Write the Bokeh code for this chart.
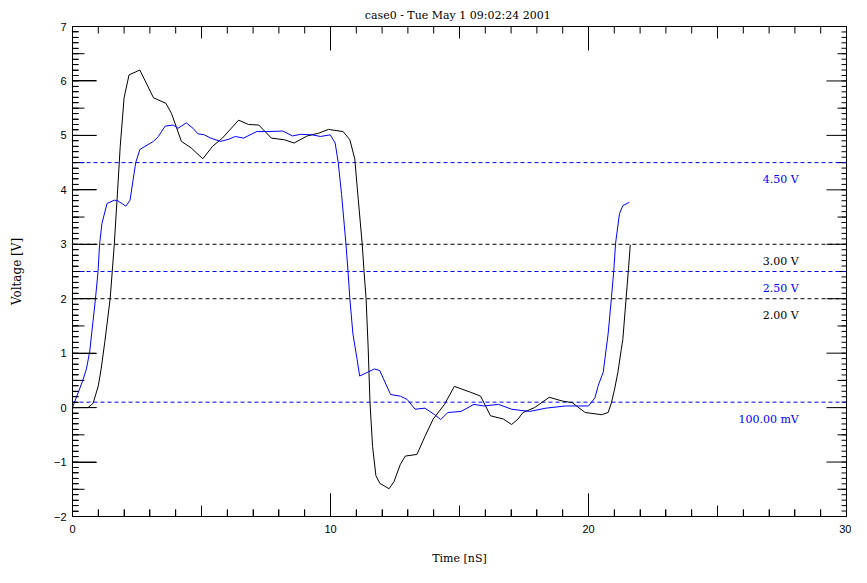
import numpy as np
from bokeh.plotting import figure
from bokeh.models import FixedTicker, LinearAxis, Range1d, ColumnDataSource
from bokeh.core.properties import value
from bokeh.embed import file_html
from bokeh.resources import INLINE

# ---- data ----
black_x = [0, 0.6, 0.8, 1.0, 1.11, 1.25, 1.46, 1.62, 1.75, 1.85, 2.0, 2.19, 2.61, 3.14, 3.62,
           3.84, 4.22, 4.60, 5.05, 5.43, 5.81, 6.44, 6.82, 7.22, 7.71, 8.21, 8.59, 9.10, 9.54, 9.92,
           10.49, 10.75, 10.94, 11.06, 11.23, 11.30, 11.38, 11.46, 11.53, 11.63, 11.76, 11.91, 12.27,
           12.46, 12.71, 12.90, 13.35, 13.66, 13.98, 14.42, 14.80, 15.44, 15.82, 16.20, 16.70, 17.02,
           17.27, 17.46, 17.91, 18.48, 18.99, 19.37, 19.87, 20.51, 20.76, 20.89, 21.02, 21.14, 21.27,
           21.33, 21.46, 21.55, 21.62]
black_y = [0, 0, 0.08, 0.4, 0.71, 1.2, 2.0, 3.0, 4.0, 4.8, 5.69, 6.11, 6.2, 5.69, 5.59,
           5.40, 4.89, 4.77, 4.57, 4.80, 4.95, 5.28, 5.20, 5.19, 4.95, 4.92, 4.86, 4.99, 5.04, 5.11,
           5.07, 4.92, 4.57, 3.91, 3.0, 2.5, 2.0, 1.1, 0.1, -0.71, -1.25, -1.39, -1.49,
           -1.36, -1.04, -0.89, -0.86, -0.53, -0.21, 0.06, 0.39, 0.28, 0.21, -0.15, -0.21, -0.31,
           -0.21, -0.09, 0, 0.19, 0.12, 0.09, -0.09, -0.13, -0.09, 0.09, 0.36, 0.65, 1.07,
           1.25, 2.02, 2.55, 2.99]

blue_x = [0, 0.2, 0.4, 0.54, 0.67, 0.89, 0.99, 1.05, 1.14, 1.34, 1.62, 1.75, 2.07, 2.23, 2.45,
          2.61, 2.89, 3.14, 3.33, 3.59, 3.90, 4.09, 4.41, 4.67, 4.86, 5.11, 5.36, 5.74, 6.06, 6.31,
          6.63, 7.14, 7.58, 8.15, 8.53, 8.85, 9.29, 9.61, 9.99, 10.18, 10.30, 10.43, 10.60, 10.68,
          10.75, 10.87, 11.03, 11.13, 11.70, 11.91, 12.33, 12.71, 12.97, 13.28, 13.66, 14.04, 14.27,
          14.55, 15.06, 15.56, 15.94, 16.51, 17.02, 17.72, 18.35, 19.11, 19.62, 20.0, 20.25, 20.38,
          20.57, 20.76, 20.89, 20.98, 21.05, 21.20, 21.33, 21.58]
blue_y = [0, 0.25, 0.5, 0.71, 1.04, 2.0, 2.5, 3.0, 3.38, 3.75, 3.81, 3.80, 3.70, 3.81, 4.5,
          4.74, 4.82, 4.89, 4.98, 5.17, 5.19, 5.13, 5.23, 5.13, 5.03, 5.01, 4.95, 4.89, 4.93, 4.98,
          4.95, 5.07, 5.07, 5.08, 4.99, 5.02, 5.01, 4.98, 5.01, 4.86, 4.5, 3.91, 3.0, 2.5,
          2.0, 1.35, 0.89, 0.58, 0.71, 0.68, 0.24, 0.21, 0.15, -0.03, -0.01, -0.13, -0.22,
          -0.09, -0.07, 0.06, 0.03, 0.06, -0.03, -0.07, -0.01, 0.03, 0.03, 0.03, 0.18, 0.41,
          0.65, 1.35, 2.02, 2.52, 3.02, 3.56, 3.71, 3.77]

thr_levels = [4.5, 3.0, 2.5, 2.0, 0.1]
thr_colors = ["#0000ff", "#000000", "#0000ff", "#000000", "#0000ff"]
thr_labels = ["4.50 V", "3.00 V", "2.50 V", "2.00 V", "100.00 mV"]
thr_label_x = 28.15

x_start, x_end = 0, 30
y_start, y_end = -2, 7
x_major = [0, 10, 20, 30]
x_medium = [5, 15, 25]
x_minor = list(range(0, 31))
y_major = list(range(-2, 8))
y_medium = [v + 0.5 for v in range(-2, 7)]
y_minor = [round(v, 1) for v in np.arange(-2, 7.001, 0.1)]

title_text = "case0 - Tue May  1 09:02:24 2001"
x_label = "Time [nS]"
y_label = "Voltage [V]"

SERIF = "DejaVu Serif"
SANS = "Liberation Sans"

p = figure(width=851, height=567, x_range=Range1d(x_start, x_end), y_range=Range1d(y_start, y_end),
           output_backend="svg", toolbar_location=None, x_axis_location=None,
           y_axis_location=None,
           min_border_left=72, min_border_right=5, min_border_top=26, min_border_bottom=49)
p.background_fill_color = "white"
p.border_fill_color = "white"
p.outline_line_color = "black"
p.xgrid.visible = False
p.ygrid.visible = False

p.title.text = title_text
p.title.align = "center"
p.title.offset = -7
p.title.text_font = SERIF
p.title.text_font_size = "11px"
p.title.text_font_style = "normal"
p.title.text_color = "black"
p.title.standoff = 9


def style_axis(ax, major_len, minor_len):
    ax.axis_line_color = "black"
    ax.major_tick_line_color = "black"
    ax.minor_tick_line_color = "black"
    ax.major_tick_in = major_len
    ax.major_tick_out = 0
    ax.minor_tick_in = minor_len
    ax.minor_tick_out = 0
    ax.major_label_text_font = SANS
    ax.major_label_text_font_size = "11px"
    ax.major_label_text_color = "black"
    ax.axis_label_text_font = SERIF
    ax.axis_label_text_font_style = "normal"
    ax.axis_label_text_color = "black"


bottom = LinearAxis(ticker=FixedTicker(ticks=x_major, minor_ticks=x_minor), axis_label=x_label)
style_axis(bottom, 23, 7)
bottom.major_label_standoff = 8
bottom.axis_label_text_font_size = "11px"
bottom.axis_label_standoff = 16
p.add_layout(bottom, "below")

left = LinearAxis(ticker=FixedTicker(ticks=y_major, minor_ticks=y_minor), axis_label=y_label)
style_axis(left, 24, 6)
left.major_label_standoff = 6
left.axis_label_text_font_size = "12px"
left.axis_label_standoff = 27
p.add_layout(left, "left")


# inward tick marks on all frame edges, centred on the edges (half shows inside the frame)
def edge_ticks(xs, ys, size, vertical):
    p.scatter(x=xs, y=ys, marker="dash", size=size, angle=(np.pi / 2 if vertical else 0),
              line_color="black", line_width=1)

# left edge
edge_ticks([x_start] * len(y_major), y_major, 48, False)
edge_ticks([x_start] * len(y_medium), y_medium, 24, False)
edge_ticks([x_start] * len(y_minor), y_minor, 12, False)
# bottom edge
edge_ticks(x_major, [y_start] * len(x_major), 46, True)
edge_ticks(x_medium, [y_start] * len(x_medium), 22, True)
edge_ticks(x_minor, [y_start] * len(x_minor), 14, True)
# right edge
edge_ticks([x_end] * len(y_major), y_major, 40, False)
edge_ticks([x_end] * len(y_medium), y_medium, 18, False)
edge_ticks([x_end] * len(y_minor), y_minor, 10, False)
# top edge
edge_ticks(x_major, [y_end] * len(x_major), 48, True)
edge_ticks(x_medium, [y_end] * len(x_medium), 24, True)
edge_ticks(x_minor, [y_end] * len(x_minor), 14, True)

# threshold lines
for lvl, col in zip(thr_levels, thr_colors):
    p.line(x=[x_start, x_end], y=[lvl, lvl], line_color=col, line_dash="4 3", line_width=1)

src = ColumnDataSource(dict(x=[thr_label_x] * len(thr_levels), y=thr_levels,
                            t=thr_labels, c=thr_colors))
p.text(x="x", y="y", text="t", text_color="c", source=src, text_align="right",
       text_baseline="middle", y_offset=17, text_font=value(SERIF), text_font_size="11px")

p.line(black_x, black_y, line_color="#000000", line_width=1)
p.line(blue_x, blue_y, line_color="#0000ff", line_width=1)

open("out.html", "w").write(file_html(p, INLINE))
